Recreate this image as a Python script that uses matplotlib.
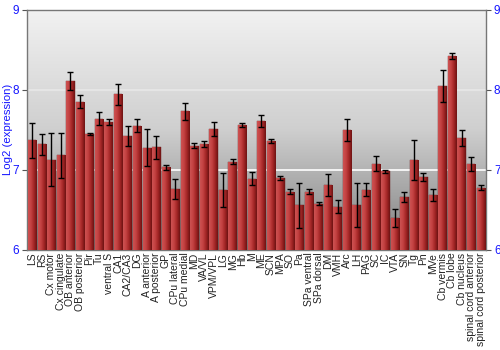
import numpy as np
import matplotlib
matplotlib.use("Agg")
import matplotlib.pyplot as plt
from matplotlib.colors import LinearSegmentedColormap

plt.rcParams['font.family'] = ['Liberation Sans', 'DejaVu Sans']

regions = ["LS", "RS", "Cx motor", "Cx cingulate", "OB anterior", "OB posterior", "Pir", "Tu",
           "ventral S", "CA1", "CA2/CA3", "DG", "A anterior", "A posterior", "GP", "CPu lateral",
           "CPu medial", "MD", "VA/VL", "VPM/VPL", "LG", "MG", "Hb", "M", "ME", "SCN", "MPA", "SO",
           "Pa", "SPa ventral", "SPa dorsal", "DM", "VMH", "Arc", "LH", "PAG", "SC", "IC", "VTA",
           "SN", "Tg", "Pn", "MVe", "Cb vermis", "Cb lobe", "Cb nucleus", "spinal cord anterior",
           "spinal cord posterior"]
values = [7.37, 7.32, 7.125, 7.18, 8.11, 7.85, 7.45, 7.64,
          7.60, 7.945, 7.425, 7.55, 7.275, 7.28, 7.03, 6.76,
          7.73, 7.30, 7.32, 7.51, 6.75, 7.10, 7.56, 6.89, 7.61, 7.355, 6.90, 6.725,
          6.555, 6.725, 6.575, 6.81, 6.54, 7.50, 6.56, 6.75, 7.075, 6.98, 6.40,
          6.66, 7.125, 6.91, 6.68, 8.05, 8.425, 7.40, 7.07,
          6.775]
errors = [0.22, 0.13, 0.33, 0.28, 0.115, 0.08, 0.015, 0.085,
          0.035, 0.13, 0.125, 0.08, 0.23, 0.14, 0.03, 0.13,
          0.11, 0.03, 0.04, 0.085, 0.21, 0.03, 0.025, 0.08, 0.075, 0.025, 0.025, 0.03,
          0.28, 0.03, 0.02, 0.135, 0.085, 0.135, 0.27, 0.08, 0.095, 0.02, 0.11,
          0.06, 0.25, 0.055, 0.075, 0.2, 0.04, 0.1, 0.09,
          0.03]
yticks = [6, 7, 8, 9]
ylabel = "Log2 (expression)"

fig = plt.figure(figsize=(5, 3.5), dpi=100)
ax = fig.add_axes([0.054, 0.286, 0.918, 0.686])
ymin, ymax = 6, 9
x = np.arange(len(regions))

# background gradient
bg = np.linspace(0, 1, 256).reshape(-1, 1)
bg_cmap = LinearSegmentedColormap.from_list("bg", ["#f2f2f2", "#cfcfcf", "#7e7e7e"])
ax.imshow(bg, extent=[0, 1, 0, 1], transform=ax.transAxes, aspect='auto',
          cmap=bg_cmap, zorder=0)

ax.axhline(yticks[1], color='white', lw=1.2, zorder=1)
ax.axhline(yticks[2], color='#e8e8e8', lw=1.2, zorder=1)

width = 0.88
bars = ax.bar(x, np.array(values) - ymin, width=width, bottom=ymin, color='#a82a2a',
              edgecolor='#6a1a1a', linewidth=0.3, zorder=2)
bar_cmap = LinearSegmentedColormap.from_list("bar", ["#cc5252", "#c44242", "#a32626", "#6e1212"])
grad = np.linspace(0, 1, 64).reshape(1, -1)
for b in bars:
    im = ax.imshow(grad, extent=[b.get_x(), b.get_x() + b.get_width(), ymin, ymin + b.get_height()],
                   aspect='auto', cmap=bar_cmap, zorder=3)
    im.set_clip_path(b)

ax.errorbar(x, values, yerr=errors, fmt='none', ecolor='black', elinewidth=1,
            capsize=2, capthick=1, zorder=4)

ax.set_xlim(-0.55, len(regions) - 0.45)
ax.set_ylim(ymin, ymax)
ax.set_yticks(yticks)
ax.set_xticks(x)
ax.set_xticklabels(regions, rotation=90, fontsize=7.5, color='#222222')
ax.tick_params(axis='x', length=0, pad=2)
ax.tick_params(axis='y', which='both', colors='#555555', labelcolor='#1414ff', labelsize=8.5,
               labelleft=True, labelright=True, direction='out')
ax.yaxis.set_tick_params(which='major', left=True, right=True)
for t in ax.yaxis.get_major_ticks():
    t.tick1line.set_markersize(0)
    t.tick2line.set_markersize(3)
    t.set_pad(2.2)
ax.set_ylabel(ylabel, color='#1414ff', fontsize=8.2)
ax.yaxis.set_label_coords(-0.031, 0.5)
for s in ax.spines.values():
    s.set_color('#777777')
    s.set_linewidth(1)

fig.savefig("out.png", dpi=100)
